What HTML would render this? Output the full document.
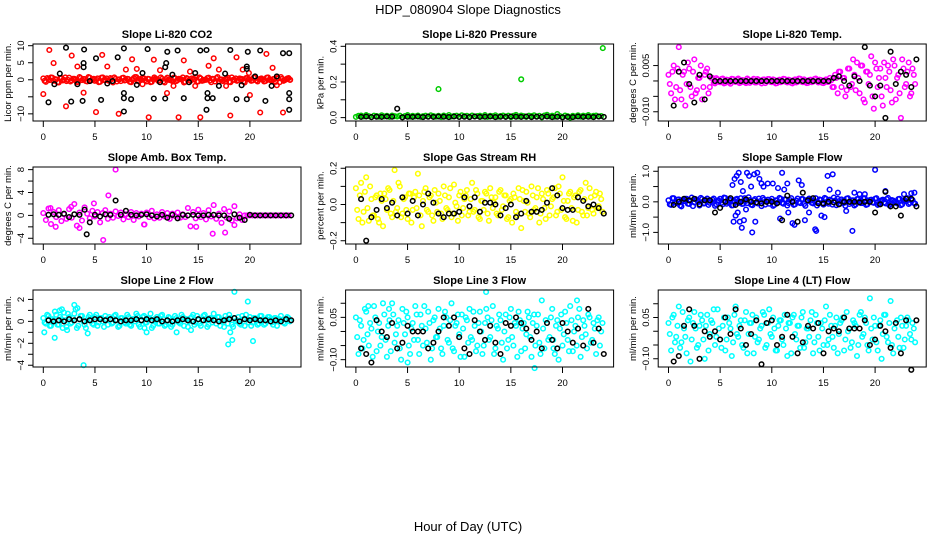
<!DOCTYPE html>
<html><head><meta charset="utf-8"><style>
html,body{margin:0;padding:0;background:#fff;}
svg text{font-family:"Liberation Sans",sans-serif;fill:#000;}
</style></head><body>
<svg id="chart" width="936" height="540" viewBox="0 0 936 540" xmlns="http://www.w3.org/2000/svg">
<text x="468" y="14" font-size="13" text-anchor="middle">HDP_080904  Slope Diagnostics</text>
<text x="468" y="531" font-size="13" text-anchor="middle">Hour of Day (UTC)</text>
<g id="panels"></g>
</svg>
<script>
// ---------- data ----------
const xTicks=[0,5,10,15,20];
// Panel 1 CO2
const co2Band=[0.4,-0.6,0.2,0.7,-0.3,0.1,-0.8,0.5,0.0,-0.4,0.6,-0.2,0.3,-0.7,0.8,-0.1,0.2,-0.5,0.6,0.1,-0.3,0.4,-0.6,0.7,0.0,-0.2,0.5,-0.8,0.3,0.1,-0.4,0.6,-0.1,0.2,-0.7,0.5,0.8,-0.3,0.0,0.4,-0.5,0.2,-0.6,0.7,0.1,-0.2,0.3,-0.8,0.6,0.0,-0.4,0.5,-0.1,0.2,0.7,-0.6,0.3,-0.3,0.1,0.8,-0.5,0.4,-0.2,0.0,0.6,-0.7,0.2,0.5,-0.4,0.1,-0.1,0.3,-0.6,0.7,0.0,-0.3,0.4,0.2,-0.8,0.5,0.1,-0.2,0.6,-0.5,0.3,0.0,-0.4,0.7,-0.1,0.2,-0.6,0.4,0.8,-0.3,0.1,0.5];
const co2Band2=[-0.3,0.5,-0.1,0.6,0.2,-0.7,0.4,-0.2,0.7,0.0,-0.5,0.3,0.1,-0.6,0.5,0.2,-0.4,0.8,-0.2,0.3,0.0,-0.7,0.6,-0.1,0.4,-0.3,0.2,0.7,-0.5,0.1,0.5,-0.2,0.3,-0.6,0.0,0.8,-0.4,0.2,0.6,-0.1,0.3,-0.7,0.1,0.4,-0.3,0.7,-0.5,0.2,0.0,-0.2,0.6,-0.4,0.3,0.1,-0.8,0.5,-0.1,0.4,0.2,-0.6,0.7,-0.3,0.0,0.5,-0.2,0.3,-0.5,0.8,0.1,-0.4,0.2,0.6,-0.7,0.0,0.4,-0.1,0.3,-0.6,0.5,0.2,-0.3,0.7,-0.2,0.1,0.4,-0.5,0.6,0.0,-0.3,0.2,0.5,-0.7,0.3,-0.1,0.4,0.0];
const co2RedHrs=[0.58,0,1.0,2.2,2.75,3.3,3.9,5.1,5.7,6.2,7.3,8.0,8.6,9.05,9.6,10.2,10.7,11.3,11.97,12.6,13.6,14.2,14.7,13.1,15.2,16.0,16.5,17.0,17.7,18.1,18.7,19.3,19.9,20.0,21.0,21.6,22.2,22.6,23.2,23.9];
const co2RedVals=[8.75,-4.2,4.9,-7.8,7.1,3.9,-3.8,-9.5,7.3,3.9,-10,3.0,6.0,3.2,-1.3,-11,5.9,2.8,-3.9,-1.8,5.7,2.4,-1.8,-11,-11,4.1,6.3,3.0,-1.8,-10.5,6.6,3.0,2.0,-4.5,-9.6,7.6,3.5,-1.6,-9.6,0];
const co2BlkHrs=[0.5,1.07,1.6,2.2,2.7,3.3,3.8,3.9,3.9,3.95,4.5,5.1,5.6,6.2,6.7,7.2,7.8,7.8,7.8,7.8,8.5,9.05,9.6,10.1,10.7,11.3,11.8,11.8,11.9,12.0,12.5,13.0,13.6,14.1,14.7,15.2,15.8,15.9,15.9,15.8,16.4,17.0,17.6,18.1,18.7,19.2,19.7,19.7,19.8,19.7,20.5,21.0,21.5,22.1,22.6,23.2,23.8,23.8,23.8,23.8];
const co2BlkVals=[-6.6,-1.3,1.8,9.4,-6.4,-1.3,-6.2,4.9,3.7,8.9,-0.4,6.3,-5.9,-1.1,-0.4,6.6,9.2,-3.9,-5.4,-9.3,-5.7,-1.5,2.0,9.0,-5.5,-0.7,-5.5,3.7,4.9,8.2,1.5,8.6,-5.4,-0.7,2.0,8.6,8.75,-3.9,-5.4,-8.8,-5.4,-1.8,1.8,8.75,-5.7,-1.6,3.2,3.9,8.2,-5.7,1.0,8.6,-6.2,-1.8,1.0,7.8,7.8,-3.9,-5.7,-8.8];
// Panel 2 Pressure
const presBand=[0.004,0.010,0.012,0.006,0.014,0.008,0.003,0.011,0.009,0.005,0.013,0.007,0.010,0.004,0.012,0.008,0.006,0.011,0.003,0.009,0.014,0.005,0.010,0.007,0.012,0.004,0.008,0.011,0.006,0.013,0.009,0.005,0.010,0.003,0.012,0.007,0.014,0.006,0.009,0.011,0.004,0.013,0.008,0.010,0.005,0.012,0.007,0.009,0.011,0.006,0.014,0.004,0.010,0.008,0.013,0.005,0.009,0.012,0.007,0.011,0.003,0.010,0.015,0.006,0.012,0.008,0.004,0.011,0.009,0.013,0.006,0.010,0.002,0.012,0.016,0.007,0.011,0.005,0.020,0.009,0.004,0.012,0.008,0.000,0.010,0.006,0.013,0.005,0.011,0.008,0.014,0.007,0.010,0.012,0.006,0.009];
const presOutHrs=[8.0,16.0,23.9];
const presOutVals=[0.16,0.215,0.39];
const presBlk=[0.004,0.006,0.003,0.005,0.004,0.006,0.005,0.050,0.002,0.005,0.004,0.006,0.003,0.005,0.004,0.006,0.005,0.003,0.006,0.004,0.005,0.003,0.006,0.004,0.005,0.006,0.003,0.005,0.004,0.006,0.005,0.004,0.006,0.003,0.005,0.004,0.006,0.003,0.005,0.002,0.004,0.003,0.006,0.004,0.005,0.003,0.006,0.004];
// Panel 3 Li-820 Temp
const tempA=[0.002,-0.004,0.005,-0.002,0.011,-0.006,0.003,-0.001,0.004,-0.005,0.007,-0.003,0.001,-0.006,0.002,0.004,-0.002,0.0010,-0.0008,0.0005,-0.0004,0.0008,-0.0006,0.0003,-0.0009,0.0006,-0.0003,0.0008,-0.0005,0.0002,-0.0007,0.0004,-0.0002,0.0007,-0.0005,0.0003,-0.0008,0.0005,-0.0001,0.0006,-0.0004,0.0003,-0.0007,0.0004,-0.0002,0.0006,-0.0005,0.0002,-0.0008,0.0005,-0.0003,0.0007,-0.0004,0.0001,-0.0006,0.0004,-0.0002,0.0008,-0.0005,0.0003,-0.0007,0.0005,-0.0003,0.0002,-0.002,0.001,0.003,-0.002,0.001,-0.003,0.004,-0.001,0.002,0.006,-0.004,0.005,-0.007,0.003,0.002,-0.005,0.006,-0.002,0.004,-0.008,0.001,0.005,-0.003,0.007,-0.006,0.002,-0.012,0.004,-0.001,0.006,-0.004,0.002];
const tempB=[-0.001,0.003,-0.006,0.004,-0.003,0.002,-0.008,0.006,-0.002,0.003,-0.004,0.001,0.005,-0.002,0.003,-0.004,0.001,-0.0006,0.0009,-0.0003,0.0006,-0.0008,0.0004,-0.0005,0.0007,-0.0002,0.0005,-0.0007,0.0003,-0.0004,0.0008,-0.0006,0.0002,-0.0005,0.0006,-0.0002,0.0004,-0.0007,0.0006,-0.0003,0.0005,-0.0008,0.0002,-0.0004,0.0007,-0.0003,0.0004,-0.0006,0.0003,-0.0005,0.0008,-0.0002,0.0005,-0.0007,0.0003,-0.0004,0.0006,-0.0001,0.0004,-0.0006,0.0002,-0.0003,0.001,-0.002,0.002,-0.004,0.003,0.001,-0.005,0.004,-0.002,0.007,-0.003,0.001,0.005,-0.006,0.003,-0.001,0.008,-0.009,0.004,0.001,-0.005,0.006,-0.002,0.003,-0.007,0.005,0.001,-0.004,0.007,-0.002,0.003,-0.005,0.004,-0.001];
const tempBlk=[-0.008,0.003,0.006,-0.001,-0.007,0.002,-0.006,0.0015,0,0,0,0,0,0,0,0,0,0,0,0,0,0,0,0,0,0,0,0,0,0,0,0.001,0.0015,0,-0.0015,0.0015,0,0.011,-0.0015,-0.005,-0.0015,-0.012,0.0095,-0.001,0.003,0.002,-0.002,0.007];
// Panel 4 Amb box temp
const ambA=[0.4,-0.8,1.2,-1.5,0.6,-0.3,0.9,-1.0,0.2,-0.6,1.1,-0.4,2.0,-1.8,0.5,-0.9,1.4,0.3,-0.5,0.8,-0.2,0.6,-1.2,0.4,0.9,-0.6,0.3,-0.4,0.7,-0.1,0.5,-0.7,0.2,-0.3,0.6,-0.8,0.4,-0.2,0.3,-1.6,0.5,-0.3,0.8,-0.5,0.2,-0.4,0.6,-0.2,0.4,-0.6,0.3,-0.1,0.5,-0.4,0.2,-0.3,1.3,-1.9,0.6,-0.5,1.0,-0.3,0.4,-0.7,0.9,-0.2,1.8,-0.6,0.3,-1.3,1.1,-0.4,0.7,-0.9,1.6,-0.5,0.2,-0.8,0,0,0,0,0,0,0,0,0,0,0,0,0,0,0,0,0,0];
const ambOutHrs=[7.0,6.3,5.8,1.2,16.4,17.6,18.5,9.8,14.8,3.5,0.7,2.7,4.9];
const ambOutVals=[8,3.5,-4.3,-2,-3.2,-3.0,-1.7,-1.6,-2,-2.2,1.3,1.5,2.1];
const ambBlk=[0.1,0.2,0.1,0.3,-0.3,0.2,0.1,1.0,-1.2,0.1,-0.2,0.2,0.1,2.6,0.1,0.8,0.1,0.0,0.1,0.2,0.0,-0.2,0.1,-0.4,0.1,-0.5,0.1,0.0,0.1,0.0,0.0,0.1,0.1,0.0,0.0,-0.6,0.2,-0.4,-0.8,0.1,0.0,0.0,0.0,0.0,0.0,0.0,0.0,0.0];
const ambBlkOutHrs=[4.2];
const ambBlkOutVals=[-3.3];
// Panel 5 Gas Stream RH
const rhA=[0.09,-0.08,0.12,-0.04,0.15,-0.09,0.03,-0.06,0.05,-0.10,0.02,0.06,-0.03,0.08,-0.07,0.19,-0.02,0.10,-0.05,0.04,-0.08,0.06,-0.03,0.07,0.17,-0.06,0.02,0.09,-0.04,0.05,-0.09,0.01,0.06,-0.05,0.10,-0.02,0.04,-0.07,0.11,-0.01,0.05,-0.06,0.03,0.08,-0.04,0.12,-0.03,0.06,-0.08,0.02,0.07,-0.05,0.09,-0.02,0.04,-0.06,0.08,-0.01,0.05,-0.07,0.03,0.06,-0.04,0.09,-0.13,0.02,0.07,-0.05,0.10,-0.03,0.04,-0.10,0.06,-0.02,0.08,-0.06,0.03,0.09,-0.04,0.06,0.15,-0.07,0.02,0.07,-0.09,0.05,-0.03,0.08,-0.06,0.12,-0.02,0.04,-0.05,0.07,-0.01,0.03];
const rhB=[-0.03,0.05,-0.10,0.07,-0.02,0.10,-0.06,0.04,-0.08,0.06,-0.12,0.03,0.09,-0.05,0.02,-0.04,0.12,-0.07,0.03,-0.03,0.06,-0.10,0.04,-0.02,0.05,-0.12,0.07,-0.03,0.04,-0.06,0.08,-0.04,0.02,-0.08,0.05,-0.03,0.09,-0.05,0.01,-0.09,0.07,-0.02,0.05,-0.06,0.03,-0.04,0.08,-0.07,0.02,-0.03,0.06,-0.09,0.04,0.01,-0.05,0.07,-0.03,0.05,-0.08,0.02,-0.10,0.04,-0.06,0.03,0.08,-0.04,0.01,-0.07,0.05,-0.02,0.09,-0.05,0.03,-0.08,0.06,-0.01,0.04,-0.06,0.10,-0.03,0.02,-0.08,0.06,-0.02,0.04,-0.10,0.07,-0.04,0.03,-0.06,0.09,-0.03,0.05,-0.02,0.06,-0.04];
const rhBlk=[0.03,-0.20,-0.07,-0.03,0.03,-0.02,0.01,-0.06,0.04,-0.05,0.02,-0.06,0.00,0.06,0.01,-0.05,-0.07,-0.05,-0.05,-0.04,0.04,-0.01,0.04,-0.04,0.01,0.01,0.00,-0.06,-0.02,0.00,-0.07,-0.05,0.02,-0.04,-0.04,-0.03,0.01,0.09,0.05,-0.02,-0.03,-0.03,0.04,0.02,-0.01,0.00,-0.02,-0.05];
// Panel 6 Sample Flow
const flowBand=[0.05,-0.10,0.12,-0.04,0.08,-0.15,0.02,0.10,-0.07,0.14,-0.02,0.06,-0.12,0.09,-0.05,0.11,-0.03,0.07,-0.13,0.04,0.10,-0.08,0.13,-0.01,0.06,-0.11,0.08,-0.04,0.12,-0.06,0.03,0.15,-0.09,0.05,-0.02,0.11,-0.14,0.07,0.02,-0.06,0.10,-0.10,0.04,0.13,-0.03,0.08,-0.12,0.06,0.01,-0.08,0.11,-0.04,0.09,-0.13,0.03,0.07,-0.05,0.12,-0.02,0.06,-0.09,0.10,-0.06,0.04,0.14,-0.11,0.02,0.08,-0.03,0.11,-0.07,0.05,-0.12,0.09,0.01,-0.04,0.12,-0.08,0.06,-0.02,0.10,-0.10,0.03,0.07,-0.05,0.13,-0.06,0.04,-0.01,0.09,-0.11,0.05,0.02,-0.07,0.08,-0.03];
const flowBand2=[-0.08,0.12,-0.02,0.07,-0.12,0.05,0.10,-0.06,0.03,-0.14,0.09,-0.01,0.13,-0.05,0.06,-0.10,0.02,0.11,-0.08,0.04,-0.03,0.14,-0.06,0.08,-0.12,0.03,0.10,-0.02,-0.07,0.12,-0.04,0.06,-0.11,0.09,-0.05,0.02,0.13,-0.09,0.07,0.03,-0.13,0.05,-0.02,0.10,-0.06,0.08,-0.04,0.12,-0.10,0.04,-0.01,0.09,-0.07,0.06,0.11,-0.03,0.02,-0.12,0.08,-0.05,0.13,-0.02,0.07,-0.09,0.04,0.10,-0.06,0.03,-0.13,0.12,-0.01,0.05,-0.08,0.09,-0.04,0.11,-0.10,0.02,0.07,-0.03,0.12,-0.07,0.05,-0.02,0.09,-0.11,0.06,0.01,-0.05,0.10,-0.08,0.04,0.12,-0.03,0.06,-0.06];
const flowOutHrs=[6.2,6.4,6.6,6.8,7.0,7.2,7.3,7.1,6.9,6.5,7.6,7.8,8.0,8.3,8.6,8.8,9.0,9.2,6.3,6.7,7.5,8.1,8.4,9.6,10.1,10.6,11.0,11.2,11.5,12.2,12.6,12.9,13.2,13.6,14.2,14.3,15.4,15.6,15.9,16.4,17.8,18.0,19.0,20.0,21.0,22.8,23.5,23.8,10.8,11.6,12.0,14.8,15.1,17.2,18.5];
const flowOutVals=[0.55,0.75,0.85,0.95,0.65,0.35,-0.6,-0.85,-0.65,-0.45,0.95,0.85,0.5,0.9,0.95,0.75,0.6,0.5,-0.65,-0.35,-0.25,-1.0,-0.65,0.6,0.6,0.45,0.95,0.4,0.6,-0.75,0.7,0.55,-0.6,-0.35,-0.9,-0.95,0.85,0.4,0.9,0.3,-0.95,0.3,0.25,1.05,0.35,0.25,0.28,0.3,-0.55,-0.35,-0.7,-0.45,-0.5,-0.3,0.25];
const flowBlk=[-0.1,0.0,0.1,0.05,0.1,-0.08,0.05,0.05,-0.35,-0.2,0.0,0.12,-0.1,0.0,0.08,0.0,-0.02,-0.05,0.0,0.0,-0.05,-0.6,0.2,0.0,-0.65,0.3,0.05,0.12,-0.05,-0.05,0.0,-0.02,-0.08,0.0,0.0,0.0,-0.02,0.0,0.0,-0.35,-0.08,0.33,-0.15,-0.15,-0.45,0.1,0.1,-0.15];
// Panel 7 Line 2 Flow
const l2Band=[0.3,-0.2,0.5,-0.4,0.1,0.6,-0.3,0.2,0.8,-0.5,0.4,-0.1,0.7,-0.6,0.2,0.5,-0.3,0.1,0.6,-0.2,0.4,-0.4,0.3,0.0,0.5,-0.3,0.2,-0.1,0.6,-0.5,0.3,0.1,-0.2,0.4,-0.4,0.2,0.7,-0.3,0.1,0.5,-0.1,0.3,-0.6,0.2,0.4,-0.2,0.6,-0.4,0.1,0.3,-0.3,0.5,0.0,-0.2,0.4,0.2,-0.5,0.3,0.6,-0.1,0.2,-0.4,0.5,0.1,-0.3,0.3,0.7,-0.2,0.4,0.0,-0.5,0.2,0.6,-0.3,0.3,0.1,-0.2,0.5,-0.4,0.2,0.4,-0.1,0.3,-0.3,0.5,0.1,-0.2,0.4,0.2,-0.3,0.3,0.0,0.5,-0.1,0.2,0.3];
const l2Band2=[-0.1,0.6,-0.4,0.2,0.9,-0.3,0.4,-0.6,0.1,0.7,-0.2,0.3,1.1,-0.4,0.5,0.0,-0.6,0.4,0.2,-0.3,0.6,-0.1,0.3,-0.5,0.2,0.4,-0.2,0.5,0.1,-0.4,0.3,-0.1,0.6,-0.3,0.2,0.0,0.5,-0.5,0.4,-0.1,0.3,0.7,-0.4,0.1,-0.2,0.5,0.2,-0.3,0.4,-0.5,0.1,0.3,-0.1,0.6,-0.4,0.2,0.0,0.4,-0.3,0.5,-0.2,0.1,0.6,-0.5,0.3,-0.1,0.2,0.4,-0.4,0.1,0.5,-0.2,0.3,-0.5,0.0,0.4,-0.3,0.2,0.6,-0.1,-0.4,0.3,0.1,-0.2,0.5,-0.3,0.2,0.4,-0.1,0.3,-0.4,0.2,0.1,-0.2,0.4,0.0];
const l2OutHrs=[0.1,1.1,1.6,2.3,3.0,3.3,4.3,3.9,17.9,18.1,18.5,18.3,19.8,20.3,1.8,9.8,10.0,12.9,14.3];
const l2OutVals=[-1.0,-1.5,1.0,-0.8,1.5,1.2,-1.1,-4.0,-2.1,-1.0,2.7,-1.7,1.8,-1.8,1.1,-0.6,-1.0,-1.0,-0.8];
const l2Blk=[0.1,0.0,0.1,0.0,0.2,0.1,0.2,0.0,0.1,0.2,0.2,0.1,0.2,0.1,0.0,0.1,0.1,0.2,0.1,0.2,0.1,0.2,0.0,0.1,0.0,0.1,0.2,0.1,0.0,0.2,0.1,0.2,0.1,0.0,0.1,0.2,0.3,0.0,0.2,0.1,0.2,0.1,0.1,0.0,0.1,0.0,0.2,0.1];
// Panel 8 Line 3 Flow
const l3A=[0.05,-0.08,0.02,-0.03,0.07,-0.05,0.01,0.09,-0.07,0.03,-0.02,0.06,-0.09,0.04,0.10,-0.04,0.02,-0.06,0.08,-0.01,0.05,-0.08,0.03,0.09,-0.03,0.06,-0.05,0.01,0.07,-0.10,0.04,-0.02,0.08,-0.06,0.02,0.05,-0.04,0.10,-0.07,0.03,-0.01,0.06,-0.09,0.04,0.08,-0.03,0.02,-0.05,0.07,-0.08,0.03,0.05,-0.02,0.09,-0.06,0.01,0.04,-0.10,0.06,-0.03,0.08,-0.05,0.02,0.07,-0.07,0.03,-0.01,0.05,-0.09,0.06,0.02,-0.04,0.11,-0.06,0.03,-0.02,0.08,-0.08,0.04,0.01,-0.05,0.07,-0.03,0.09,-0.07,0.02,0.05,-0.09,0.04,-0.01,0.06,-0.04,0.03,-0.08,0.05,0.00];
const l3B=[-0.02,0.04,-0.06,0.08,-0.01,0.03,-0.09,0.05,0.00,-0.05,0.10,-0.03,0.02,-0.07,0.06,-0.01,0.04,-0.10,0.03,0.07,-0.05,0.01,-0.03,0.06,-0.08,0.02,0.09,-0.04,0.03,-0.06,0.05,-0.02,0.01,-0.08,0.07,-0.03,0.04,-0.06,0.02,0.06,-0.09,0.01,0.05,-0.04,-0.02,0.07,-0.07,0.03,0.00,-0.05,0.08,-0.03,0.04,-0.08,0.02,0.06,-0.04,0.00,-0.06,0.05,-0.02,0.03,-0.09,0.04,0.01,-0.06,0.07,-0.02,0.03,-0.05,0.06,-0.08,0.01,0.04,-0.03,0.05,-0.06,0.02,-0.10,0.06,-0.01,0.03,-0.07,0.04,0.00,-0.05,0.08,-0.02,0.02,-0.06,0.05,-0.03,0.01,0.04,-0.05,0.03];
const l3OutHrs=[12.6,17.3,21.4,19.1,5.0,1.2,3.2];
const l3OutVals=[0.14,-0.13,0.11,-0.03,-0.11,0.09,0.08];
const l3Blk=[-0.06,-0.08,-0.11,0.04,0.00,-0.02,0.03,-0.06,-0.04,0.02,0.00,0.00,0.00,-0.06,-0.04,0.00,0.05,0.02,0.05,-0.02,-0.06,-0.08,0.04,0.00,-0.03,0.02,-0.04,-0.08,0.03,0.02,0.05,0.03,0.01,-0.03,0.00,-0.06,0.03,-0.03,-0.06,0.03,0.00,-0.04,0.01,-0.05,0.08,-0.04,0.01,-0.08];
// Panel 9 Line 4 (LT) Flow
const l4A=[0.03,-0.07,0.06,-0.02,0.09,-0.04,0.01,-0.08,0.05,-0.03,0.07,-0.06,0.02,0.04,-0.10,0.06,-0.01,0.03,-0.05,0.08,-0.03,0.02,-0.07,0.05,0.01,-0.04,0.09,-0.02,0.04,-0.06,0.07,-0.01,0.03,-0.08,0.05,-0.03,0.02,0.06,-0.05,0.08,-0.02,0.01,-0.07,0.04,-0.03,0.06,-0.09,0.03,0.05,-0.01,0.02,-0.06,0.07,-0.04,0.01,0.04,-0.08,0.06,-0.02,0.03,-0.05,0.09,-0.03,0.02,-0.06,0.05,-0.01,0.04,-0.07,0.07,0.01,-0.04,0.03,-0.09,0.06,-0.02,0.05,-0.05,0.12,-0.03,0.02,-0.07,0.04,-0.01,0.06,-0.04,0.11,-0.08,0.03,-0.02,0.05,-0.06,0.02,0.04,-0.03,0.01];
const l4B=[-0.01,0.05,-0.04,0.02,-0.06,0.07,-0.02,0.04,-0.11,0.03,0.01,-0.05,0.06,-0.03,0.02,-0.07,0.04,0.08,-0.02,0.01,-0.06,0.05,-0.03,0.03,-0.09,0.06,-0.01,0.02,-0.05,0.04,-0.08,0.03,0.06,-0.02,-0.04,0.01,0.07,-0.06,0.03,-0.01,0.05,-0.07,0.02,0.04,-0.05,0.01,0.03,-0.08,0.06,-0.03,0.02,0.05,-0.06,0.01,-0.02,0.07,-0.04,0.03,-0.07,0.01,0.04,-0.05,0.06,-0.02,0.02,-0.08,0.03,0.05,-0.03,0.00,-0.06,0.04,0.02,-0.05,0.07,-0.01,0.03,-0.07,0.01,0.05,-0.04,0.02,-0.10,0.06,-0.02,0.03,-0.05,0.01,0.04,-0.06,0.02,-0.03,0.05,-0.01,0.03,-0.04];
const l4Blk=[-0.11,-0.09,0.02,0.08,0.02,-0.10,0.00,-0.02,0.00,-0.03,0.05,-0.01,0.08,0.01,-0.05,-0.01,0.04,-0.12,0.03,0.04,-0.05,-0.02,0.06,-0.02,-0.08,-0.04,0.02,0.01,0.03,-0.08,0.00,0.01,0.00,0.05,0.01,0.01,0.01,0.04,-0.05,-0.03,0.02,0.00,-0.06,0.03,-0.08,0.04,-0.14,0.04];

// ---------- drawing ----------
const NS='http://www.w3.org/2000/svg';
const root=document.getElementById('panels');
function mk(tag,attrs,parent){const e=document.createElementNS(NS,tag);for(const k in attrs)e.setAttribute(k,attrs[k]);(parent||root).appendChild(e);return e;}
const PX_PER_H=10.33;
function gridHrs(n,step,off){const h=[];for(let i=0;i<n;i++)h.push(off+i*step);return h;}

function panel(cfg){
  const L=33+312.6*cfg.c, T=44+123*cfg.r, W=268, H=77;
  const x0=L+10.3;
  const xs=h=>x0+h*PX_PER_H;
  const ys=v=>T+(cfg.ymax-v)/(cfg.ymax-cfg.ymin)*H;
  const g=mk('g',{});
  
  
  const t=mk('text',{x:L+W/2,y:T-6,'font-size':11,'font-weight':'bold','text-anchor':'middle'},g);
  t.textContent=cfg.title;
  
  
  const pts=mk('g',{},g);
  
  
  cfg.series.forEach(s=>{
    s.vals.forEach((v,i)=>{
      const h=s.hrs[i];
      if(h===undefined)return;
      const c=mk('circle',{cx:xs(h).toFixed(1),cy:ys(v).toFixed(1),r:2.3,fill:'none',stroke:s.col,'stroke-width':1.5},pts);
      
      
    });
  });
  const b=mk('rect',{x:L,y:T,width:W,height:H,fill:'none',stroke:'#000','stroke-width':1},g);
  
  
  const xa=mk('g',{},g);
  
  
  xTicks.forEach(v=>{
    mk('line',{x1:xs(v),x2:xs(v),y1:T+H,y2:T+H+6,stroke:'#000'},xa);
    const tx=mk('text',{x:xs(v),y:T+H+19,'font-size':9.5,'text-anchor':'middle'},xa);
    tx.textContent=v;
  });
  const ya=mk('g',{},g);
  
  
  const yt=cfg.yticks;
  yt.forEach(v=>{
    const y=ys(v);
    mk('line',{x1:L-5,x2:L,y1:y,y2:y,stroke:'#000'},ya);
  });
  cfg.ylabels.forEach((lab,i)=>{
    const y=ys(cfg.ylabelVals[i]);
    const tx=mk('text',{x:L-9,y:y,'font-size':9.5,'text-anchor':'middle',transform:`rotate(-90 ${L-9} ${y})`},ya);
    tx.textContent=lab;
  });
  const yl=mk('text',{x:L-22,y:T+H/2,'font-size':9.5,'text-anchor':'middle',transform:`rotate(-90 ${L-22} ${T+H/2})`},g);
  yl.textContent=cfg.ytitle;
  
  
}
const g96=gridHrs(96,0.25,0), g96b=gridHrs(96,0.25,0.125), g48=gridHrs(48,0.5,0.5);
const RED='#ff0000',GRN='#00cc00',MAG='#ff00ff',YEL='#ffff00',BLU='#0000ff',CYN='#00ffff',BLK='#000000';
panel({name:'co2',title:'Slope Li-820 CO2',c:0,r:0,ymax:10.5,ymin:-12.1,yticks:[-10,-5,0,5,10],ylabels:['\u221210','0','5','10'],ylabelVals:[-10,0,5,10],ytitle:'Licor ppm per min.',
  series:[{hrs:g96,vals:co2Band,col:RED},{hrs:g96b,vals:co2Band2,col:RED},{hrs:co2RedHrs,vals:co2RedVals,col:RED},{hrs:co2BlkHrs,vals:co2BlkVals,col:BLK}]});
panel({name:'pressure',title:'Slope Li-820 Pressure',c:1,r:0,ymax:0.413,ymin:-0.019,yticks:[0,0.1,0.2,0.3,0.4],ylabels:['0.0','0.2','0.4'],ylabelVals:[0,0.2,0.4],ytitle:'kPa per min.',
  series:[{hrs:g96,vals:presBand,col:GRN},{hrs:presOutHrs,vals:presOutVals,col:GRN},{hrs:g48,vals:presBlk,col:BLK}]});
panel({name:'li820-temp',title:'Slope Li-820 Temp.',c:2,r:0,ymax:0.012,ymin:-0.013,yticks:[-0.010,-0.005,0,0.005],ylabels:['\u22120.010','0.005'],ylabelVals:[-0.010,0.005],ytitle:'degrees C per min.',
  series:[{hrs:g96,vals:tempA,col:MAG},{hrs:g96b,vals:tempB,col:MAG},{hrs:g48,vals:tempBlk,col:BLK}]});
panel({name:'amb-box-temp',title:'Slope Amb. Box Temp.',c:0,r:1,ymax:8.46,ymin:-5.0,yticks:[-4,-2,0,2,4,6,8],ylabels:['\u22124','0','4','8'],ylabelVals:[-4,0,4,8],ytitle:'degrees C per min.',
  series:[{hrs:g96,vals:ambA,col:MAG},{hrs:ambOutHrs,vals:ambOutVals,col:MAG},{hrs:g48,vals:ambBlk,col:BLK},{hrs:ambBlkOutHrs,vals:ambBlkOutVals,col:BLK}]});
panel({name:'gas-stream-rh',title:'Slope Gas Stream RH',c:1,r:1,ymax:0.207,ymin:-0.218,yticks:[-0.2,-0.1,0,0.1,0.2],ylabels:['\u22120.2','0.0','0.2'],ylabelVals:[-0.2,0,0.2],ytitle:'percent per min.',
  series:[{hrs:g96,vals:rhA,col:YEL},{hrs:g96b,vals:rhB,col:YEL},{hrs:g48,vals:rhBlk,col:BLK}]});
panel({name:'sample-flow',title:'Slope Sample Flow',c:2,r:1,ymax:1.14,ymin:-1.38,yticks:[-1,-0.5,0,0.5,1],ylabels:['\u22121.0','0.0','1.0'],ylabelVals:[-1,0,1],ytitle:'ml/min per min.',
  series:[{hrs:g96,vals:flowBand,col:BLU},{hrs:g96b,vals:flowBand2,col:BLU},{hrs:flowOutHrs,vals:flowOutVals,col:BLU},{hrs:g48,vals:flowBlk,col:BLK}]});
panel({name:'line2-flow',title:'Slope Line 2 Flow',c:0,r:2,ymax:2.86,ymin:-4.16,yticks:[-4,-3,-2,-1,0,1,2],ylabels:['\u22124','\u22122','0','2'],ylabelVals:[-4,-2,0,2],ytitle:'ml/min per min.',
  series:[{hrs:g96,vals:l2Band,col:CYN},{hrs:g96b,vals:l2Band2,col:CYN},{hrs:l2OutHrs,vals:l2OutVals,col:CYN},{hrs:g48,vals:l2Blk,col:BLK}]});
panel({name:'line3-flow',title:'Slope Line 3 Flow',c:1,r:2,ymax:0.147,ymin:-0.126,yticks:[-0.10,-0.05,0,0.05,0.10],ylabels:['\u22120.10','0.05'],ylabelVals:[-0.10,0.05],ytitle:'ml/min per min.',
  series:[{hrs:g96,vals:l3A,col:CYN},{hrs:g96b,vals:l3B,col:CYN},{hrs:l3OutHrs,vals:l3OutVals,col:CYN},{hrs:g48,vals:l3Blk,col:BLK}]});
panel({name:'line4-flow',title:'Slope Line 4 (LT) Flow',c:2,r:2,ymax:0.15,ymin:-0.13,yticks:[-0.10,-0.05,0,0.05,0.10],ylabels:['\u22120.10','0.05'],ylabelVals:[-0.10,0.05],ytitle:'ml/min per min.',
  series:[{hrs:g96,vals:l4A,col:CYN},{hrs:g96b,vals:l4B,col:CYN},{hrs:g48,vals:l4Blk,col:BLK}]});
</script>
</body></html>
